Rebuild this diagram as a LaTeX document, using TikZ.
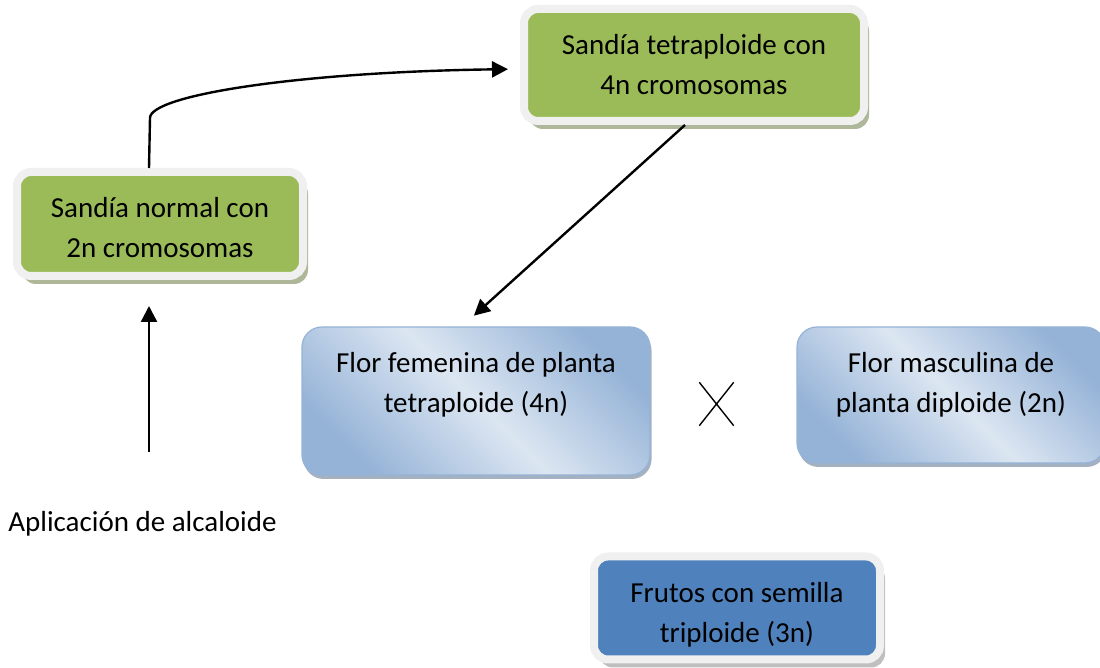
\documentclass[tikz,border=0pt]{standalone}
\usepackage{fontspec}
\setmainfont{Carlito}
\usetikzlibrary{arrows.meta,shadows,shapes.misc}
\definecolor{verde}{HTML}{9BBB59}
\definecolor{azul}{HTML}{4F81BD}
\definecolor{celeste}{HTML}{DCE6F2}
\definecolor{celesteosc}{HTML}{95B3D7}
\definecolor{marco}{HTML}{F0F0F0}

\begin{document}
\begin{tikzpicture}[x=0.5pt,y=-0.5pt]

    \tikzstyle{texto}=[font=\fontsize{14.5}{20}\selectfont]
    \tikzstyle{caja}=[rectangle, texto, inner xsep=0pt, inner ysep=0pt, text height=23pt]
    \tikzstyle{cajamarco}=[caja, rounded corners=7pt, draw=marco, line width=4pt]
    \tikzstyle{cajaverde}=[cajamarco, fill=verde,
                           drop shadow={shadow xshift=2.5pt, shadow yshift=-4pt, fill=black!40!verde, opacity=0.5}]
    \tikzstyle{cajaazul}=[cajamarco, fill=azul,
                          drop shadow={shadow xshift=2.5pt, shadow yshift=-4pt, fill=black!50, opacity=0.5}]
    \tikzstyle{cajaclara}=[caja, rounded corners=10pt, draw=celesteosc, line width=0.6pt,
                           top color=celesteosc, bottom color=celesteosc, middle color=celeste, shading angle=-45,
                           drop shadow={shadow xshift=0.8pt, shadow yshift=-2pt, fill=celesteosc!70!black, opacity=0.6}]
    \tikzstyle{flecha}=[draw=black, line width=1.2pt, -{Triangle[length=8pt,width=8pt]}]

    \useasboundingbox (0,0) rectangle (1100,668);

    \node[cajaverde, text depth=29pt] (normal) at (160,224)
        {\parbox[t]{143pt}{\centering Sandía normal con\\2n cromosomas}};
    \node[cajaverde, text depth=33pt] (tetra) at (694,65)
        {\parbox[t]{170pt}{\centering Sandía tetraploide con\\4n cromosomas}};
    \node[cajaclara, text depth=51pt] (femenina) at (476,401)
        {\parbox[t]{174pt}{\centering Flor femenina de planta\\tetraploide (4n)}};
    \node[cajaclara, text depth=45pt] (masculina) at (951,395)
        {\parbox[t]{154pt}{\centering Flor masculina de\\planta diploide (2n)}};
    \node[cajaazul, text depth=28.5pt] (frutos) at (737,608)
        {\parbox[t]{143pt}{\centering Frutos con semilla\\triploide (3n)}};

    \node[cross out, draw, line width=0.7pt, minimum width=16.5pt, minimum height=21pt, inner sep=0pt] (cruz) at (716.5,404) {};

    \node[texto, anchor=west, inner sep=0pt] (alcaloide) at (8,524) {Aplicación de alcaloide};

    \coordinate (base) at (149,452);
    \draw[flecha, shorten >=13pt] (base) -- (base |- normal.south);
    \draw[flecha, shorten >=6pt] (base |- normal.north) -- (150,118)
        .. controls (150,95) and (300,72) .. ([yshift=-2pt]tetra.west);
    \draw[flecha, shorten >=8pt] ([xshift=-4.5pt]tetra.south) -- ([xshift=-7pt]femenina.north);
\end{tikzpicture}
\end{document}
